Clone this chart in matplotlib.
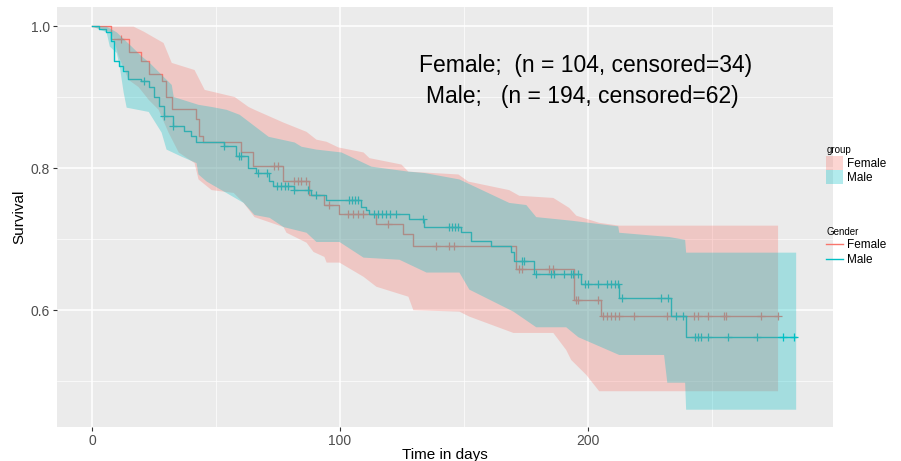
''' Kaplan-Meier survival curves by gender '''
import numpy as np
import matplotlib
matplotlib.use("Agg")
import matplotlib.pyplot as plt
from matplotlib.patches import Patch
from matplotlib.lines import Line2D

plt.rcParams['font.family'] = ['Liberation Sans', 'DejaVu Sans']

# survival step curves (time in days, survival)
female_t = [0, 7.7, 14.9, 19.8, 23.0, 28.2, 29.8, 32.3, 41.9, 43.1, 44.8, 60.1, 64.9, 77.0,
            87.5, 93.5, 99.6, 114.5, 125.4, 129.4, 171.0, 194.4, 205.2, 276.6]
female_s = [1.0, 0.982, 0.963, 0.951, 0.932, 0.923, 0.901, 0.883, 0.869, 0.845, 0.837, 0.823,
            0.803, 0.782, 0.762, 0.748, 0.735, 0.721, 0.707, 0.690, 0.658, 0.615, 0.592, 0.592]
female_cens = [11.7, 73.4, 75.0, 81.5, 83.1, 84.3, 86.3, 95.6, 103.2, 105.2, 107.3, 109.3, 119.4,
               138.7, 143.9, 146.0, 172.2, 173.4, 184.3, 185.9, 195.2, 196.0, 204.0, 206.0,
               207.7, 209.3, 210.9, 212.5, 218.5, 231.9, 242.7, 244.4, 248.4, 254.8, 255.6,
               269.8, 276.6]

male_t = [0, 2.8, 5.6, 7.7, 8.9, 10.9, 12.5, 14.5, 19.8, 23.0, 25.0, 27.0, 29.0, 32.7, 37.1,
          39.9, 41.9, 53.2, 58.1, 62.9, 66.1, 71.4, 73.0, 81.5, 88.3, 94.4, 108.5, 110.5, 111.7,
          127.8, 133.9, 148.8, 152.8, 160.9, 169.0, 170.2, 178.2, 197.2, 212.5, 233.5, 239.5,
          283.9]
male_s = [1.0, 0.996, 0.992, 0.979, 0.951, 0.944, 0.937, 0.925, 0.923, 0.915, 0.901, 0.887,
          0.873, 0.859, 0.852, 0.845, 0.837, 0.831, 0.817, 0.801, 0.794, 0.782, 0.775, 0.770,
          0.763, 0.756, 0.746, 0.742, 0.735, 0.728, 0.718, 0.710, 0.697, 0.690, 0.682, 0.669,
          0.651, 0.637, 0.618, 0.592, 0.562, 0.562]
male_cens = [21.0, 29.0, 32.7, 53.2, 59.3, 60.1, 66.9, 70.6, 74.6, 76.2, 77.8, 79.0, 81.5, 87.1,
             90.3, 103.6, 104.8, 106.0, 107.3, 113.7, 115.3, 116.9, 118.5, 120.2, 122.6, 133.5,
             144.0, 145.2, 146.4, 147.6, 173.4, 174.2, 179.0, 185.1, 186.3, 190.3, 193.1, 194.0,
             196.0, 198.8, 200.0, 204.0, 207.7, 209.3, 210.9, 212.1, 213.7, 229.4, 232.3, 235.5,
             238.3, 243.1, 244.4, 245.6, 248.4, 256.5, 268.5, 278.6, 283.1]

# confidence bands (ribbon vertices)
female_up_t = [0, 16.5, 20.6, 28.6, 31.9, 41.1, 45.2, 57.3, 62.9, 65.3, 77.0, 86.3, 90.3, 94.4,
               99.2, 109.3, 111.7, 124.6, 127.4, 147.6, 151.6, 168.1, 172.2, 185.9, 192.3,
               195.2, 204.4, 212.5, 276.6]
female_up_v = [1.0, 1.0, 0.993, 0.977, 0.949, 0.939, 0.911, 0.901, 0.887, 0.883, 0.865, 0.852,
               0.841, 0.838, 0.830, 0.823, 0.815, 0.806, 0.796, 0.792, 0.782, 0.770, 0.762,
               0.759, 0.745, 0.734, 0.724, 0.720, 0.720]
female_lo_t = [0, 7.7, 10.5, 14.5, 18.5, 22.6, 26.6, 30.6, 34.7, 41.1, 42.7, 48.0, 56.9, 60.9,
               65.3, 77.0, 78.2, 86.3, 89.1, 93.5, 94.4, 99.6, 109.3, 114.5, 127.4, 129.4, 148.0,
               152.0, 169.8, 185.9, 191.1, 193.1, 199.2, 204.4, 276.6]
female_lo_v = [1.0, 0.992, 0.958, 0.925, 0.915, 0.897, 0.883, 0.851, 0.823, 0.808, 0.785, 0.770,
               0.766, 0.752, 0.732, 0.718, 0.710, 0.696, 0.683, 0.676, 0.668, 0.668, 0.648,
               0.634, 0.620, 0.601, 0.599, 0.592, 0.569, 0.569, 0.545, 0.531, 0.510, 0.487,
               0.487]

male_up_t = [0, 5.6, 9.7, 15.7, 19.8, 23.0, 29.0, 31.9, 32.7, 42.7, 48.0, 54.0, 59.3, 71.0,
             81.5, 84.3, 90.3, 100.4, 112.5, 127.4, 134.0, 148.0, 168.1, 175.0, 179.0, 193.1,
             212.1, 212.5, 232.7, 239.1, 239.5, 283.9]
male_up_v = [1.0, 1.0, 0.992, 0.972, 0.958, 0.949, 0.928, 0.918, 0.901, 0.890, 0.887, 0.883,
             0.876, 0.845, 0.837, 0.831, 0.827, 0.823, 0.803, 0.796, 0.794, 0.785, 0.752, 0.749,
             0.732, 0.727, 0.719, 0.710, 0.704, 0.700, 0.682, 0.682]
male_lo_t = [0, 2.8, 5.6, 6.9, 9.7, 10.9, 12.5, 13.7, 22.6, 27.8, 29.8, 35.9, 41.9, 42.7, 46.0,
             60.9, 65.3, 71.4, 77.0, 86.3, 90.3, 99.6, 109.3, 123.8, 134.7, 148.0, 152.0,
             169.8, 179.0, 191.1, 196.0, 212.5, 230.6, 231.9, 239.1, 239.5, 283.9]
male_lo_v = [1.0, 0.996, 0.992, 0.972, 0.963, 0.944, 0.907, 0.886, 0.880, 0.851, 0.827, 0.817,
             0.808, 0.792, 0.782, 0.752, 0.735, 0.731, 0.718, 0.710, 0.697, 0.697, 0.675, 0.672,
             0.654, 0.654, 0.630, 0.599, 0.577, 0.577, 0.563, 0.538, 0.538, 0.499, 0.499,
             0.461, 0.461]

labels = ["Female;  (n = 104, censored=34)", "Male;   (n = 194, censored=62)"]

RED = "#F8766D"
TEAL = "#00BFC4"


def step_at(t_pts, v_pts, grid):
    idx = np.searchsorted(t_pts, grid, side='right') - 1
    return np.asarray(v_pts)[np.clip(idx, 0, len(v_pts) - 1)]


def band(ax, up_t, up_v, lo_t, lo_v, color):
    # ribbon edges joined straight between vertices, like geom_ribbon
    grid = np.union1d(up_t, lo_t)
    ax.fill_between(grid, np.interp(grid, lo_t, lo_v), np.interp(grid, up_t, up_v),
                    color=color, alpha=0.3, lw=0, zorder=3)


fig = plt.figure(figsize=(9.01, 4.61), dpi=100)
ax = fig.add_axes([0.0633, 0.0738, 0.8613, 0.9111])
ax.set_facecolor("#EBEBEB")
for sp in ax.spines.values():
    sp.set_visible(False)

# lines first, ribbons drawn on top (as in the original)
for t, s, cens, c in [(female_t, female_s, female_cens, RED), (male_t, male_s, male_cens, TEAL)]:
    ax.step(t, s, where='post', color=c, lw=1.0, zorder=2)
    ax.plot(cens, step_at(t, s, cens), ls='none', marker='+', ms=6, mew=0.9, color=c, zorder=2)

band(ax, female_up_t, female_up_v, female_lo_t, female_lo_v, RED)
band(ax, male_up_t, male_up_v, male_lo_t, male_lo_v, TEAL)

ax.set_xlim(-14.2, 299)
ax.set_ylim(0.436, 1.027)
ax.set_xticks([0, 100, 200])
ax.set_xticks([50, 150, 250], minor=True)
ax.set_yticks([0.6, 0.8, 1.0])
ax.set_yticklabels(["0.6", "0.8", "1.0"])
ax.set_yticks([0.5, 0.7, 0.9], minor=True)
ax.grid(which='major', color='white', lw=1.1, zorder=0)
ax.grid(which='minor', color='white', lw=0.5, zorder=0)
ax.set_axisbelow(True)
ax.tick_params(which='major', length=3, pad=2, color='#333333', labelsize=10,
               labelcolor='#4D4D4D')
ax.tick_params(which='minor', length=0)
ax.set_xlabel("Time in days", fontsize=11, labelpad=0)
ax.set_ylabel("Survival", fontsize=11, labelpad=3)

ax.text(199, 0.945, labels[0], ha='center', va='center', fontsize=16.5, zorder=5)
ax.text(198, 0.901, labels[1], ha='center', va='center', fontsize=16.5, zorder=5)

# legends
fill_handles = [Patch(facecolor=RED, alpha=0.3, edgecolor='none'),
                Patch(facecolor=TEAL, alpha=0.3, edgecolor='none')]
line_handles = [Line2D([], [], color=RED, lw=1), Line2D([], [], color=TEAL, lw=1)]
leg1 = fig.legend(fill_handles, ["Female", "Male"], title="group", loc='upper left',
                  bbox_to_anchor=(0.912, 0.695), frameon=False, fontsize=8.5,
                  title_fontsize=7, handlelength=1.4, handleheight=1.4, handletextpad=0.3,
                  labelspacing=0.05, borderaxespad=0)
leg1._legend_box.align = "left"
leg2 = fig.legend(line_handles, ["Female", "Male"], title="Gender", loc='upper left',
                  bbox_to_anchor=(0.912, 0.518), frameon=False, fontsize=8.5,
                  title_fontsize=7, handlelength=1.4, handletextpad=0.3,
                  labelspacing=0.2, borderaxespad=0)
leg2._legend_box.align = "left"

fig.savefig("out.png", dpi=100)
